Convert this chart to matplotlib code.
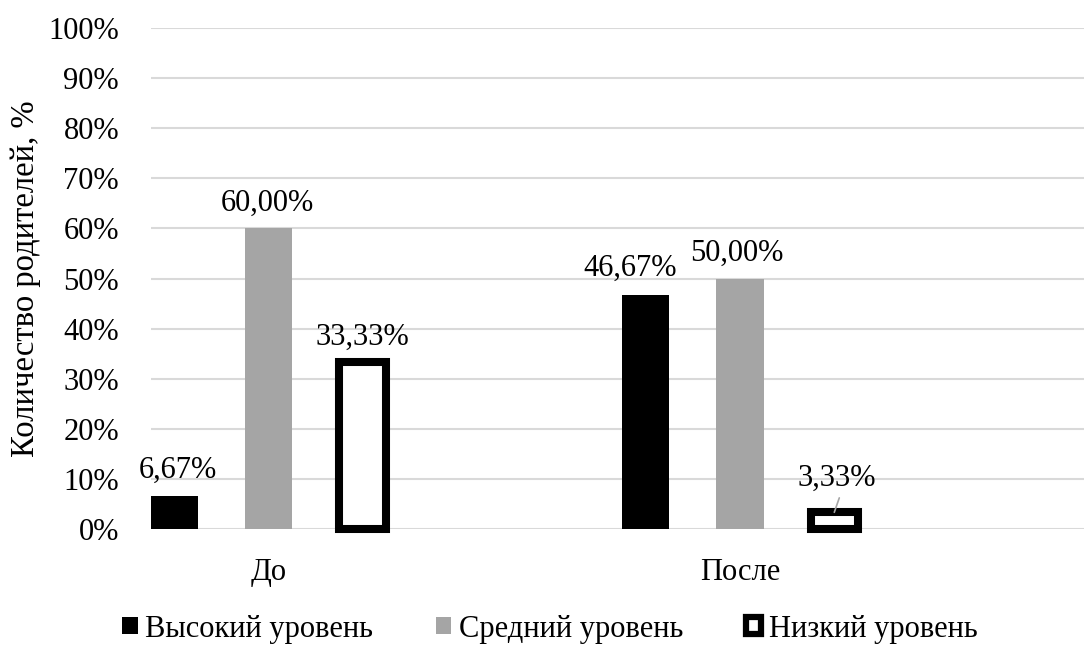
import matplotlib
matplotlib.use("Agg")
import matplotlib.pyplot as plt
from matplotlib.patches import Patch
import numpy as np

categories = ["До", "После"]
series_names = ["Высокий уровень", "Средний уровень", "Низкий уровень"]
high = [6.67, 46.67]
medium = [60.00, 50.00]
low = [33.33, 3.33]
y_ticks = [0, 10, 20, 30, 40, 50, 60, 70, 80, 90, 100]
y_label = "Количество родителей, %"

plt.rcParams['font.family'] = ['Liberation Serif', 'DejaVu Serif']
FS = 22

W, H = 1084, 646
fig = plt.figure(figsize=(W / 100, H / 100), dpi=100)
ax = fig.add_axes([151 / W, 117 / H, 1 - 151 / W, (618 - 117) / H])

x = np.arange(len(categories))
offsets = [-0.2, 0.0, 0.2]
width = 0.1

b1 = ax.bar(x + offsets[0], high, width, color='black', zorder=3, clip_on=False)
b2 = ax.bar(x + offsets[1], medium, width, color='#a5a5a5', zorder=3, clip_on=False)
b3 = ax.bar(x + offsets[2], low, width, facecolor='white', edgecolor='black',
            linewidth=5.8, zorder=3, clip_on=False)

ax.set_xlim(-0.2492, 1.7296)
ax.set_ylim(0, 100)
ax.set_yticks(y_ticks)
ax.set_yticklabels([f"{t}%" for t in y_ticks], fontsize=FS)
ax.set_xticks(x)
ax.set_xticklabels(categories, fontsize=FS)
ax.tick_params(axis='y', length=0, pad=23)
ax.tick_params(axis='x', length=0, pad=21)
ax.grid(axis='y', color='#d9d9d9', linewidth=1.5, zorder=0)
ax.set_axisbelow(True)
for s in ax.spines.values():
    s.set_visible(False)

def fmt(v):
    return f"{v:.2f}%".replace('.', ',')

# label offsets in points (dx, dy above bar top to baseline)
label_offsets = {
    (0, 0): (3, 12.5), (0, 1): (-1, 12.5), (0, 2): (0, 12.5),
    (1, 0): (-11, 13.7), (1, 1): (-2, 12.5),
}
all_series = [high, medium, low]
for si, vals in enumerate(all_series):
    for ci, v in enumerate(vals):
        xp = x[ci] + offsets[si]
        if (ci, si) in label_offsets:
            dx, dy = label_offsets[(ci, si)]
            ax.annotate(fmt(v), xy=(xp, v), xytext=(dx, dy), textcoords='offset points',
                        ha='center', va='baseline', fontsize=FS, zorder=5)
        else:
            ax.annotate(fmt(v), xy=(xp, v), xytext=(2, 19), textcoords='offset points',
                        ha='center', va='baseline', fontsize=FS, zorder=5)
            # leader line
            ax.annotate('', xy=(xp, v), xytext=(3.6, 10.4), textcoords='offset points',
                        zorder=6,
                        arrowprops=dict(arrowstyle='-', color='#a6a6a6', lw=1.2,
                                        shrinkA=0, shrinkB=0))

fig.text(26 / W, 1 - 278.5 / H, y_label, rotation=90, ha='center', va='center', fontsize=23.5)

handles = [Patch(facecolor='black', edgecolor='black', linewidth=0),
           Patch(facecolor='#a5a5a5', edgecolor='#a5a5a5', linewidth=0),
           Patch(facecolor='white', edgecolor='black', linewidth=4.5, joinstyle='round')]
fig.legend(handles, series_names, loc='center', bbox_to_anchor=(550 / W, 1 - 629 / H),
           ncol=3, frameon=False, handlelength=0.5, handleheight=0.5,
           handletextpad=0.25, columnspacing=2.05, fontsize=FS, borderpad=0)

fig.savefig("out.png", dpi=100)
